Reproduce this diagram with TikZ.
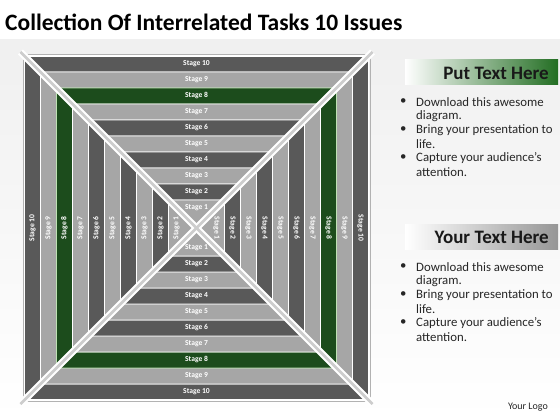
\documentclass[tikz,border=0pt]{standalone}
\usepackage{fontspec}
\setmainfont{Carlito}
\definecolor{dg}{RGB}{89,89,89}
\definecolor{lg}{RGB}{166,166,166}
\definecolor{gr}{RGB}{28,76,28}
\definecolor{gredge}{RGB}{190,225,180}
\definecolor{hgreen}{RGB}{35,110,35}
\definecolor{hgray}{RGB}{150,150,150}
\definecolor{diag}{RGB}{205,205,205}
\begin{document}
\begin{tikzpicture}[x=1pt,y=-1pt,
  lbl/.style={text=white,font=\bfseries\fontsize{7.6}{8}\selectfont,inner sep=0pt},
  bullettext/.style={anchor=west,font=\fontsize{12.8}{14}\selectfont,text=black!85,inner sep=0pt},
  headtext/.style={anchor=east,font=\bfseries\fontsize{19}{21}\selectfont,text=black!90,inner sep=0pt}]
\useasboundingbox (0,0) rectangle (560,420);
\fill[white] (0,0) rectangle (560,420);
\shade[top color=black!6, bottom color=white] (0,40) rectangle (560,420);
\node[anchor=west,font=\bfseries\fontsize{23.5}{26}\selectfont,inner sep=0pt] (title) at (5,22) {Collection Of Interrelated Tasks 10 Issues};
\begin{scope}[shift={(196.5,228)}]
  \foreach \k/\col/\edg in {10/dg/white,9/lg/white,8/gr/gredge,7/lg/white,6/dg/white,5/lg/white,4/dg/white,3/lg/white,2/dg/white,1/lg/white}{
    \pgfmathsetmacro\ro{12+16*\k}
    \pgfmathsetmacro\ri{\k==1 ? 0 : \ro-16}
    \filldraw[fill=\col,draw=\edg,line width=0.8] (-\ro,-\ro) -- (\ro,-\ro) -- (\ri,-\ri) -- (-\ri,-\ri) -- cycle;
    \filldraw[fill=\col,draw=\edg,line width=0.8] (-\ro,\ro) -- (\ro,\ro) -- (\ri,\ri) -- (-\ri,\ri) -- cycle;
    \filldraw[fill=\col,draw=\edg,line width=0.8] (-\ro,-\ro) -- (-\ro,\ro) -- (-\ri,\ri) -- (-\ri,-\ri) -- cycle;
    \filldraw[fill=\col,draw=\edg,line width=0.8] (\ro,-\ro) -- (\ro,\ro) -- (\ri,\ri) -- (\ri,-\ri) -- cycle;
  }
  \draw[black!30,line width=0.6] (-173.5,-173.5) rectangle (173.5,173.5);
  \draw[white,line width=1.5] (-172,-172) rectangle (172,172);
  \draw[white,line width=7] (-176,-176) -- (176,176);
  \draw[white,line width=7] (-176,176) -- (176,-176);
  \draw[diag,line width=2.5] (-176,-176) -- (176,176);
  \draw[diag,line width=2.5] (-176,176) -- (176,-176);
  \foreach \k in {1,...,10}{
    \pgfmathsetmacro\m{4+16*\k}
    \node[lbl] (top\k) at (0,-\m) {Stage \k};
    \node[lbl] (bot\k) at (0,\m) {Stage \k};
    \node[lbl,rotate=90] (lft\k) at (-\m,0) {Stage \k};
    \node[lbl,rotate=-90] (rgt\k) at (\m,0) {Stage \k};
  }
\end{scope}
% right panel
\shade[left color=white, right color=hgreen] (405,60) rectangle (558,85);
\node[headtext] (h1) at (549,73) {Put Text Here};
\shade[left color=white, right color=hgray] (405,224) rectangle (558,249);
\node[headtext] (h2) at (549,237) {Your Text Here};
\foreach \base/\n in {102/a,267/b}{
  \node[bullettext] (\n1) at (416,\base) {Download this awesome};
  \node[bullettext] (\n2) at (416,\base+14) {diagram.};
  \node[bullettext] (\n3) at (416,\base+28) {Bring your presentation to};
  \node[bullettext] (\n4) at (416,\base+42) {life.};
  \node[bullettext] (\n5) at (416,\base+56) {Capture your audience’s};
  \node[bullettext] (\n6) at (416,\base+70) {attention.};
  \node[bullettext] (\n b1) at (400,\base) {•};
  \node[bullettext] (\n b3) at (400,\base+28) {•};
  \node[bullettext] (\n b5) at (400,\base+56) {•};
}
\node[anchor=east,font=\fontsize{10}{11}\selectfont,inner sep=0pt,text=black!85] (logo) at (548,407) {Your Logo};
\end{tikzpicture}
\end{document}
